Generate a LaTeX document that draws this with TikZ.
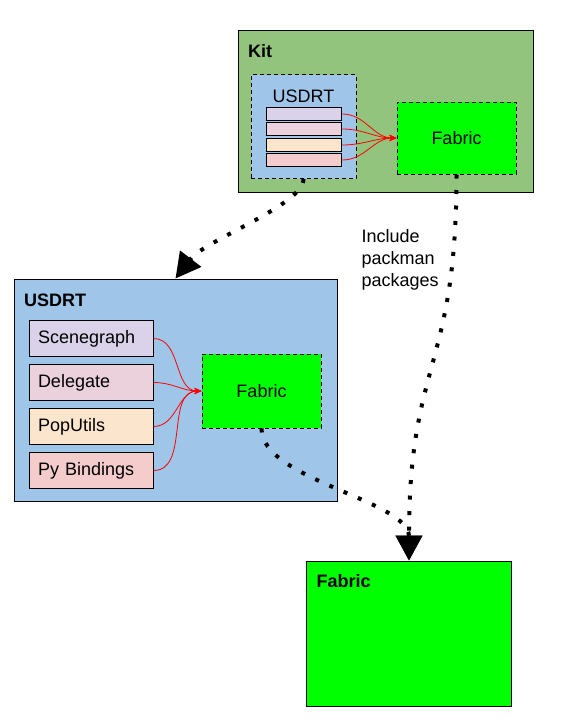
\documentclass[tikz,border=0pt]{standalone}
\usepackage{fontspec}
\setmainfont{Liberation Sans}
\usepackage{xcolor}
\usepackage{tikz}
\usetikzlibrary{arrows.meta}
\definecolor{kitgreen}{HTML}{93C47D}
\definecolor{rtblue}{HTML}{9FC5E8}
\definecolor{fabgreen}{HTML}{00FF00}
\definecolor{scene}{HTML}{D9D2E9}
\definecolor{deleg}{HTML}{EAD1DC}
\definecolor{poputil}{HTML}{FCE5CD}
\definecolor{pybind}{HTML}{F4CCCC}
\tikzset{
  lab/.style={font=\fontsize{18}{22}\selectfont, text=black},
  title/.style={lab, font=\fontsize{18}{22}\selectfont\bfseries, inner sep=0pt, anchor=west},
  frame/.style={rectangle, draw=black, line width=1pt, inner sep=0pt},
  pkg/.style={frame, dash pattern=on 4pt off 3pt},
  bar/.style={frame, minimum width=75.5pt, minimum height=13pt},
  item/.style={frame, lab, minimum height=36pt, text width=106pt, inner xsep=9pt, align=left},
  dep/.style={draw=red, line width=0.8pt, -{Stealth[length=7pt,width=6pt]}},
  link/.style={draw=black, line width=4pt, dash pattern=on 4pt off 11.5pt,
    -{Triangle[length=25pt,width=26pt]}},
}
\begin{document}
\begin{tikzpicture}[x=1pt, y=-1pt]
  \useasboundingbox (0,0) rectangle (572,720);
  \node[frame, fill=kitgreen, minimum width=295pt, minimum height=162pt] (kit) at (385.5,111) {};
  \node[title] (kittitle) at (248,51) {Kit};
  \node[pkg, fill=rtblue, minimum width=105pt, minimum height=104pt] (kitrt) at (303.5,126.5) {};
  \node[lab, inner sep=0pt] (kitrttitle) at (303.5,96) {USDRT};
  \node[bar, fill=scene] (bara) at (304,114) {};
  \node[bar, fill=deleg] (barb) at (304,129) {};
  \node[bar, fill=poputil] (barc) at (304,145) {};
  \node[bar, fill=pybind] (bard) at (304,160) {};
  \node[pkg, lab, fill=fabgreen, minimum width=119pt, minimum height=72pt] (kitfab) at (456.5,138) {Fabric};
  \foreach \b in {bara,barb,barc,bard}
    \draw[dep] (\b.east) to[out=0, in=180] (kitfab.west);

  \node[frame, fill=rtblue, minimum width=323pt, minimum height=222pt] (rt) at (175.5,390) {};
  \node[title] (rttitle) at (24,300) {USDRT};
  \node[item, fill=scene] (scenegraph) at (91,338.5) {Scenegraph};
  \node[item, fill=deleg] (delegate) at (91,382.5) {Delegate};
  \node[item, fill=poputil] (poputils) at (91,426.5) {PopUtils};
  \node[item, fill=pybind] (pybindings) at (91,470.5) {Py Bindings};
  \node[pkg, lab, fill=fabgreen, minimum width=119pt, minimum height=74pt] (rtfab) at (261.5,391) {Fabric};
  \foreach \b in {scenegraph,delegate,poputils,pybindings}
    \draw[dep] (\b.east) to[out=0, in=180] (rtfab.west);

  \node[frame, fill=fabgreen, minimum width=205pt, minimum height=145pt] (fab) at (409,633.5) {};
  \node[title] (fabtitle) at (316.5,581.5) {Fabric};

  \draw[link] (kitrt.south) .. controls (303.5,205) and (205,240) .. (rt.north);
  \draw[link] (kitfab.south) .. controls (456.5,370) and (409,360) .. (fab.north);
  \draw[link] (rtfab.south) .. controls (261.5,480) and (409,500) .. (fab.north);
  \node[lab, inner sep=0pt, anchor=west, align=left] (note) at (361.5,260) {Include\\packman\\packages};
\end{tikzpicture}
\end{document}
